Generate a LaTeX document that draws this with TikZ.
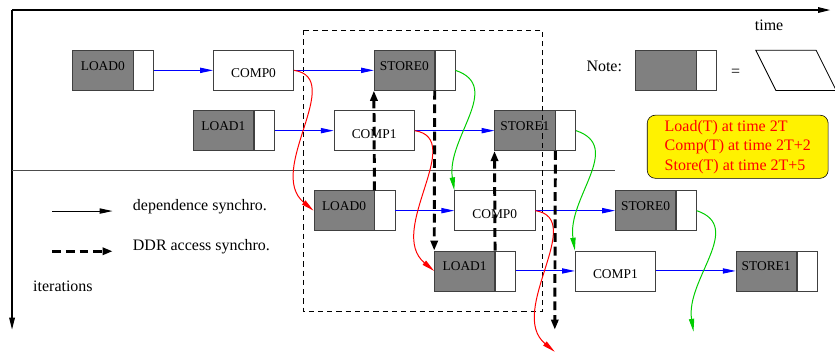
\documentclass[tikz,border=0pt]{standalone}
\usepackage{fontspec}
\setmainfont{Liberation Serif}
\usepackage{tikz}
\usetikzlibrary{positioning,arrows.meta}
\usepackage{xcolor}
\definecolor{figgreen}{RGB}{0,205,0}
\tikzset{
  mem/.style={draw=black!75, fill=gray, minimum width=1.5cm, minimum height=1cm,
    inner sep=0pt, font=\fontsize{9.5}{11}\selectfont, text depth=0.22cm},
  tail/.style={draw=black!75, fill=white, minimum width=0.5cm, minimum height=1cm, inner sep=0pt},
  comp/.style={draw=black!75, fill=white, minimum width=2cm, minimum height=1cm,
    inner sep=0pt, font=\fontsize{9.5}{11}\selectfont, text height=0.37cm},
  txt/.style={font=\fontsize{11.3}{13.8}\selectfont, inner sep=0pt},
  memo/.style={txt, draw, fill=yellow, text=red, rounded corners=0.2cm, align=left,
    minimum width=4.5cm, minimum height=1.57cm},
  dep/.style={-{Triangle[length=3.2mm,width=1.3mm]}, blue, line width=0.7pt},
  rdep/.style={dep, red},
  gdep/.style={dep, figgreen},
  ddr/.style={-{Triangle[length=2.5mm,width=1.8mm]}, line width=2.1pt,
    dash pattern=on 2.2mm off 1.2mm},
  axis/.style={-{Triangle[length=3mm,width=1.4mm]}, line width=0.8pt},
  win/.style={line width=0.6pt, dash pattern=on 1.3mm off 1mm},
}
\begin{document}
\begin{tikzpicture}
    \useasboundingbox (-0.3,0.25) rectangle (20.47,-8.51);
    \coordinate (o) at (0,0);
    \coordinate (tend) at (20.35,0);
    \coordinate (iend) at (0,-7.95);
    \coordinate (sepl) at (0,-4);
    \coordinate (sepr) at (15,-4);
    \node[mem, anchor=west] (ld0) at (1.5,-1.5) {LOAD0};
    \node[tail, right=0pt of ld0] (ld0t) {};
    \node[comp, anchor=west] (cp0) at (5,-1.5) {COMP0};
    \node[mem, anchor=west] (st0) at (9,-1.5) {STORE0};
    \node[tail, right=0pt of st0] (st0t) {};
    \node[mem, anchor=west] (ld1) at (4.5,-3) {LOAD1};
    \node[tail, right=0pt of ld1] (ld1t) {};
    \node[comp, anchor=west] (cp1) at (8,-3) {COMP1};
    \node[mem, anchor=west] (st1) at (12,-3) {STORE1};
    \node[tail, right=0pt of st1] (st1t) {};
    \node[mem, anchor=west] (ld0n) at (7.5,-4.99) {LOAD0};
    \node[tail, right=0pt of ld0n] (ld0nt) {};
    \node[comp, anchor=west] (cp0n) at (11,-4.99) {COMP0};
    \node[mem, anchor=west] (st0n) at (15,-4.99) {STORE0};
    \node[tail, right=0pt of st0n] (st0nt) {};
    \node[mem, anchor=west] (ld1n) at (10.5,-6.49) {LOAD1};
    \node[tail, right=0pt of ld1n] (ld1nt) {};
    \node[comp, anchor=west] (cp1n) at (14,-6.49) {COMP1};
    \node[mem, anchor=west] (st1n) at (18,-6.49) {STORE1};
    \node[tail, right=0pt of st1n] (st1nt) {};
    \node[txt] (time) at (18.83,-0.37) {time};
    \node[txt] (note) at (14.73,-1.4) {Note:};
    \node[mem, anchor=west] (key) at (15.5,-1.5) {};
    \node[tail, right=0pt of key] (keyt) {};
    \node[txt] (eq) at (18,-1.55) {=};
    \draw[line width=0.6pt] (18.5,-1) -- (20,-1) -- (20.5,-2) -- (19,-2) -- cycle;
    \node[memo] (sched) at (18.05,-3.4) {Load(T) at time 2T\\Comp(T) at time 2T+2\\Store(T) at time 2T+5};
    \coordinate (k1) at (1,-5);
    \coordinate (k2) at (2.5,-5);
    \coordinate (k3) at (1,-6);
    \coordinate (k4) at (2.5,-6);
    \node[txt, anchor=west] (kdep) at (3,-4.88) {dependence synchro.};
    \node[txt, anchor=west] (kddr) at (3,-5.88) {DDR access synchro.};
    \node[txt, anchor=west] (iter) at (0.52,-6.87) {iterations};
    \coordinate (r3) at (13.5,-8.5);
    \coordinate (g3) at (16.95,-8);
    \coordinate (d4) at (13.5,-7.95);
    \draw[axis] (o) -- (tend);
    \draw[axis] (o) -- (iend);
    \draw[black!70, line width=0.6pt] (sepl) -- (sepr);
    \draw[win] (7.25,-0.5) rectangle (13.2,-7.5);
    \draw[dep] (ld0t) -- (cp0);
    \draw[dep] (cp0) -- (st0);
    \draw[dep] (ld1t) -- (cp1);
    \draw[dep] (cp1) -- (st1);
    \draw[dep] (ld0nt) -- (cp0n);
    \draw[dep] (cp0n) -- (st0n);
    \draw[dep] (ld1nt) -- (cp1n);
    \draw[dep] (cp1n) -- (st1n);
    \draw[rdep] (cp0.east) .. controls +(1.3,-0.2) and +(-1.2,1) .. (ld0n.west);
    \draw[rdep] (cp1.east) .. controls +(1.3,-0.2) and +(-1.2,1) .. (ld1n.west);
    \draw[rdep] (cp0n.east) .. controls +(1.3,-0.2) and +(-1.2,1) .. (r3);
    \draw[gdep] (st0t.east) .. controls +(1.2,-0.4) and +(-0.2,1.3) .. (cp0n.north west);
    \draw[gdep] (st1t.east) .. controls +(1.2,-0.4) and +(-0.2,1.3) .. (cp1n.north west);
    \draw[gdep] (st0nt.east) .. controls +(1.2,-0.4) and +(-0.2,1.3) .. (g3);
    \draw[ddr] (ld0n.north east) -- (st0.south west);
    \draw[ddr] (st0.south east) -- (ld1n.north west);
    \draw[ddr] (ld1n.north east) -- (st1.south west);
    \draw[ddr] (st1.south east) -- (d4);
    \draw[dep, black] (k1) -- (k2);
    \draw[ddr] (k3) -- (k4);
  \end{tikzpicture}
\end{document}
